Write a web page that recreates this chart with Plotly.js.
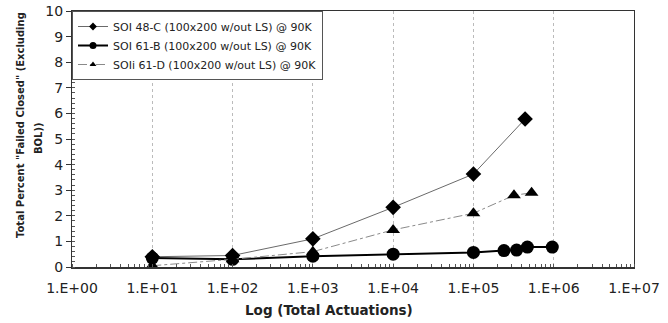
<!DOCTYPE html>
<html><head><meta charset="utf-8">
<script src="https://cdn.plot.ly/plotly-3.0.1.min.js"></script>
<style>html,body{margin:0;padding:0;background:#fff;}#chart{width:668px;height:323px;}</style>
</head><body><div id="chart"></div>
<script>
var nameA = "SOI 48-C (100x200 w/out LS) @ 90K";
var nameB = "SOI 61-B (100x200 w/out LS) @ 90K";
var nameC = "SOIi 61-D (100x200 w/out LS) @ 90K";
var xA = [10, 100, 1000, 1e4, 1e5, 4.4e5];
var yA = [0.4, 0.45, 1.1, 2.33, 3.63, 5.78];
var xB = [10, 100, 1000, 1e4, 1e5, 2.4e5, 3.45e5, 4.7e5, 9.6e5];
var yB = [0.35, 0.3, 0.42, 0.5, 0.57, 0.64, 0.66, 0.78, 0.78];
var xC = [10, 100, 1000, 1e4, 1e5, 3.2e5, 5.3e5];
var yC = [0.05, 0.3, 0.6, 1.45, 2.1, 2.8, 2.9];
var xTickVals = [1, 10, 100, 1000, 1e4, 1e5, 1e6, 1e7];
var xTickText = ["1.E+00","1.E+01","1.E+02","1.E+03","1.E+04","1.E+05","1.E+06","1.E+07"];
var yTickVals = [0,1,2,3,4,5,6,7,8,9,10];
var xTitle = "Log (Total Actuations)";
var yTitle1 = "Total Percent \"Failed Closed\" (Excluding";
var yTitle2 = "BOL))";

var F = "DejaVu Sans, Liberation Sans, Arial, sans-serif";
var styles = [
  {line: {color: "#6a6a6a", width: 1}, sym: "diamond", size: 12, lsize: 6},
  {line: {color: "#000", width: 2}, sym: "circle", size: 13, lsize: 7},
  {line: {color: "#8a8a8a", width: 1, dash: "dashdot"}, sym: "triangle-up", size: 12, lsize: 6}
];
var series = [[xA, yA, nameA], [xB, yB, nameB], [xC, yC, nameC]];
var traces = [];
series.forEach(function (s, i) {
  var st = styles[i];
  traces.push({x: s[0], y: s[1], name: s[2], mode: "lines+markers", type: "scatter", showlegend: false,
    line: st.line, marker: {symbol: st.sym, size: st.size, color: "#000"}});
});
series.forEach(function (s, i) {
  var st = styles[i];
  traces.push({x: [null], y: [null], name: s[2], mode: "lines+markers", type: "scatter", showlegend: true,
    line: st.line, marker: {symbol: st.sym, size: st.lsize, color: "#000"}});
});
var layout = {
  width: 668, height: 323,
  margin: {l: 72, r: 34, t: 11, b: 56, pad: 0},
  paper_bgcolor: "#fff", plot_bgcolor: "#fff",
  showlegend: true,
  font: {family: F, color: "#222"},
  legend: {x: 0, y: 1, xanchor: "left", yanchor: "top", bgcolor: "#fff",
    bordercolor: "#555", borderwidth: 1, font: {family: F, size: 11, color: "#222"},
    itemwidth: 30},
  xaxis: {type: "log", range: [0, 7], tickmode: "array", tickvals: xTickVals, ticktext: xTickText,
    showgrid: true, gridcolor: "#bbb", griddash: "dot", gridwidth: 1,
    showline: true, mirror: true, linecolor: "#333", linewidth: 1.5,
    ticks: "", ticklabelstandoff: 8, tickfont: {family: F, size: 14, color: "#222"},
    minor: {ticks: "inside", ticklen: 3, tickcolor: "#555", dtick: "D1", showgrid: false},
    zeroline: false},
  yaxis: {range: [0, 10], tickmode: "array", tickvals: yTickVals,
    showgrid: false, showline: true, mirror: true, linecolor: "#333", linewidth: 1,
    ticks: "outside", ticklen: 5, tickcolor: "#333",
    tickfont: {family: F, size: 14, color: "#222"},
    minor: {ticks: "inside", ticklen: 3, dtick: 0.2, tickcolor: "#555", showgrid: false},
    zeroline: false},
  annotations: [
    {text: "<b>" + xTitle + "</b>", xref: "paper", yref: "paper", x: (329 - 72) / 562, y: -43 / 256,
     xanchor: "center", yanchor: "middle", showarrow: false, font: {family: F, size: 13.5, color: "#222"}},
    {text: "<b>" + yTitle1 + "</b>", xref: "paper", yref: "paper", x: (20 - 72) / 562, y: (267 - 125) / 256,
     xanchor: "center", yanchor: "middle", textangle: -90, showarrow: false, font: {family: F, size: 10, color: "#222"}},
    {text: "<b>" + yTitle2 + "</b>", xref: "paper", yref: "paper", x: (38 - 72) / 562, y: (267 - 138) / 256,
     xanchor: "center", yanchor: "middle", textangle: -90, showarrow: false, font: {family: F, size: 10, color: "#222"}}
  ]
};
Plotly.newPlot("chart", traces, layout, {displayModeBar: false, staticPlot: true});
</script></body></html>
